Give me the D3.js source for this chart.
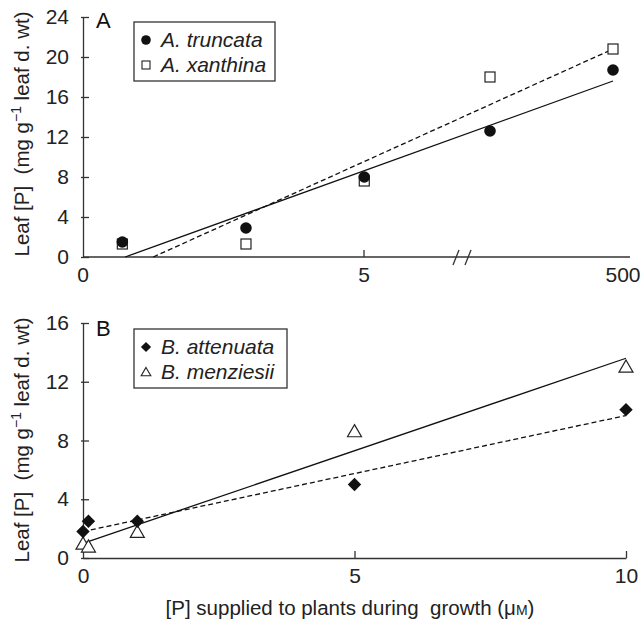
<!DOCTYPE html>
<meta charset="utf-8">
<style>
body { margin: 0; background: #fff; }
svg { font-family: "Liberation Sans", Arial, sans-serif; }
.axis path, .axis line { stroke: #333; stroke-width: 1.3; }
.axis text { font-size: 21px; fill: #222; }
.fit { fill: none; stroke: #111; stroke-width: 1.3; }
.dashed { stroke-dasharray: 5,3; }
.legend-box { fill: #fff; stroke: #333; stroke-width: 1.3; }
.legend-text { font-size: 21px; font-style: italic; fill: #222; }
.panel-label { font-size: 22px; fill: #111; }
.ylab, .xlab { font-size: 20.5px; fill: #222; }
</style>
<svg width="642" height="622"></svg>

<script src="https://d3js.org/d3.v7.min.js"></script>
<script>

// panel A
var xA_vals = [0.7, 2.9, 5.1, 50, 500];
var truncata = [1.5, 2.9, 8.0, 12.6, 18.7];
var xanthina = [1.3, 1.3, 7.6, 18.0, 20.8];
var fitTruncata = [[0.75, 0], [500, 17.6]];
var fitXanthina = [[1.25, 0], [500, 20.8]];
var yTicksA = [0, 4, 8, 12, 16, 20, 24];

// panel B
var xB_vals = [0, 0.1, 1, 5, 10];
var attenuata = [1.8, 2.5, 2.5, 5.0, 10.1];
var menziesii = [0.95, 0.75, 1.75, 8.6, 13.0];
var fitMenziesii = [[0, 1.0], [10, 13.6]];
var fitAttenuata = [[0, 1.8], [10, 9.7]];
var yTicksB = [0, 4, 8, 12, 16];
var xTicksB = [0, 5, 10];

var svg = d3.select("svg");

// ---------- panel A ----------
// broken axis: 0-5 linear, then compressed after the break
var xA = d3.scaleLinear().domain([0, 5, 50, 500]).range([83, 364, 490, 613]);
var yA = d3.scaleLinear().domain([0, 24]).range([257, 17]);

var gA = svg.append("g");

var yAxisA = gA.append("g")
    .attr("class", "axis")
    .attr("transform", "translate(83,0)")
    .call(d3.axisLeft(yA).tickValues(yTicksA).tickSizeInner(-6).tickSizeOuter(0).tickPadding(14));
yAxisA.selectAll(".tick line").attr("x1", -2).attr("x2", 6);

// x axis line, one inward tick at 5
gA.append("line")
    .attr("x1", 83).attr("x2", 630).attr("y1", yA(0)).attr("y2", yA(0))
    .attr("stroke", "#333").attr("stroke-width", 1.3);
gA.append("line")
    .attr("x1", xA(5)).attr("x2", xA(5)).attr("y1", yA(0)).attr("y2", yA(0) - 7)
    .attr("stroke", "#333").attr("stroke-width", 1.3);
[[0, "0", 0], [5, "5", 0], [500, "500", 10]].forEach(function(t) {
  gA.append("text")
    .attr("x", xA(t[0]) + t[2]).attr("y", yA(0) + 25)
    .attr("text-anchor", "middle")
    .style("font-size", "21px").attr("fill", "#222")
    .text(t[1]);
});
// break marks
[456, 468].forEach(function(bx) {
  gA.append("line")
    .attr("x1", bx - 3).attr("y1", yA(0) + 8).attr("x2", bx + 3).attr("y2", yA(0) - 7)
    .attr("stroke", "#333").attr("stroke-width", 1.3);
});

var lineA = d3.line().x(function(d) { return xA(d[0]); }).y(function(d) { return yA(d[1]); });
gA.append("path").datum(fitTruncata).attr("class", "fit").attr("d", lineA);
gA.append("path").datum(fitXanthina).attr("class", "fit dashed").attr("d", lineA);

gA.selectAll(".sq").data(xA_vals).enter().append("rect")
    .attr("x", function(d) { return xA(d) - 5; })
    .attr("y", function(d, i) { return yA(xanthina[i]) - 5; })
    .attr("width", 10).attr("height", 10)
    .attr("fill", "#fff").attr("stroke", "#222").attr("stroke-width", 1.2);
gA.selectAll(".dot").data(xA_vals).enter().append("circle")
    .attr("cx", function(d) { return xA(d); })
    .attr("cy", function(d, i) { return yA(truncata[i]); })
    .attr("r", 5.8).attr("fill", "#111");

gA.append("text").attr("class", "panel-label").attr("x", 96).attr("y", 28).text("A");

gA.append("rect").attr("class", "legend-box").attr("x", 134).attr("y", 22).attr("width", 141).attr("height", 59);
gA.append("circle").attr("cx", 146).attr("cy", 40).attr("r", 4.8).attr("fill", "#111");
gA.append("rect").attr("x", 142).attr("y", 61).attr("width", 8).attr("height", 8)
    .attr("fill", "#fff").attr("stroke", "#222").attr("stroke-width", 1.1);
gA.append("text").attr("class", "legend-text").attr("x", 161).attr("y", 47).text("A. truncata");
gA.append("text").attr("class", "legend-text").attr("x", 161).attr("y", 72).text("A. xanthina");

// ---------- panel B ----------
var xB = d3.scaleLinear().domain([0, 10]).range([83, 626]);
var yB = d3.scaleLinear().domain([0, 16]).range([558, 323]);

var gB = svg.append("g");

var yAxisB = gB.append("g")
    .attr("class", "axis")
    .attr("transform", "translate(83,0)")
    .call(d3.axisLeft(yB).tickValues(yTicksB).tickSizeInner(-6).tickSizeOuter(0).tickPadding(14));
yAxisB.selectAll(".tick line").attr("x1", -2).attr("x2", 6);

var xAxisB = gB.append("g")
    .attr("class", "axis")
    .attr("transform", "translate(0," + yB(0) + ")")
    .call(d3.axisBottom(xB).tickValues(xTicksB).tickSizeInner(-7).tickSizeOuter(0).tickPadding(10));
xAxisB.selectAll(".tick line").filter(function(d) { return d === 0; }).remove();

var lineB = d3.line().x(function(d) { return xB(d[0]); }).y(function(d) { return yB(d[1]); });
gB.append("path").datum(fitMenziesii).attr("class", "fit").attr("d", lineB);
gB.append("path").datum(fitAttenuata).attr("class", "fit dashed").attr("d", lineB);

var tri = d3.symbol().type(d3.symbolTriangle).size(85);
var dia = d3.symbol().type(d3.symbolSquare).size(90);

gB.selectAll(".tri").data(xB_vals).enter().append("path")
    .attr("d", tri)
    .attr("transform", function(d, i) { return "translate(" + xB(d) + "," + (yB(menziesii[i]) + 1) + ")"; })
    .attr("fill", "#fff").attr("stroke", "#222").attr("stroke-width", 1.2);
gB.selectAll(".dia").data(xB_vals).enter().append("path")
    .attr("d", dia)
    .attr("transform", function(d, i) { return "translate(" + xB(d) + "," + yB(attenuata[i]) + ") rotate(45)"; })
    .attr("fill", "#111");

gB.append("text").attr("class", "panel-label").attr("x", 96).attr("y", 336).text("B");

gB.append("rect").attr("class", "legend-box").attr("x", 134).attr("y", 329).attr("width", 153).attr("height", 59);
gB.append("path").attr("d", d3.symbol().type(d3.symbolSquare).size(52))
    .attr("transform", "translate(146,347) rotate(45)").attr("fill", "#111");
gB.append("path").attr("d", d3.symbol().type(d3.symbolTriangle).size(40))
    .attr("transform", "translate(146,373)").attr("fill", "#fff").attr("stroke", "#222").attr("stroke-width", 1.1);
gB.append("text").attr("class", "legend-text").attr("x", 161).attr("y", 354).text("B. attenuata");
gB.append("text").attr("class", "legend-text").attr("x", 161).attr("y", 379).text("B. menziesii");

// ---------- axis titles ----------
function ylabel(cy) {
  var t = svg.append("text").attr("class", "ylab")
      .attr("transform", "translate(29," + cy + ") rotate(-90)")
      .attr("text-anchor", "middle");
  t.append("tspan").text("Leaf [P]\u00a0\u00a0(mg g");
  t.append("tspan").attr("dy", -8).style("font-size", "14px").text("\u22121");
  t.append("tspan").attr("dy", 8).text(" leaf d. wt)");
}
ylabel(134);
ylabel(440);

var xl = svg.append("text").attr("class", "xlab")
    .attr("x", 350).attr("y", 615).attr("text-anchor", "middle");
xl.append("tspan").text("[P] supplied to plants during\u00a0 growth (\u03bc");
xl.append("tspan").style("font-size", "14px").text("M");
xl.append("tspan").text(")");

</script>
